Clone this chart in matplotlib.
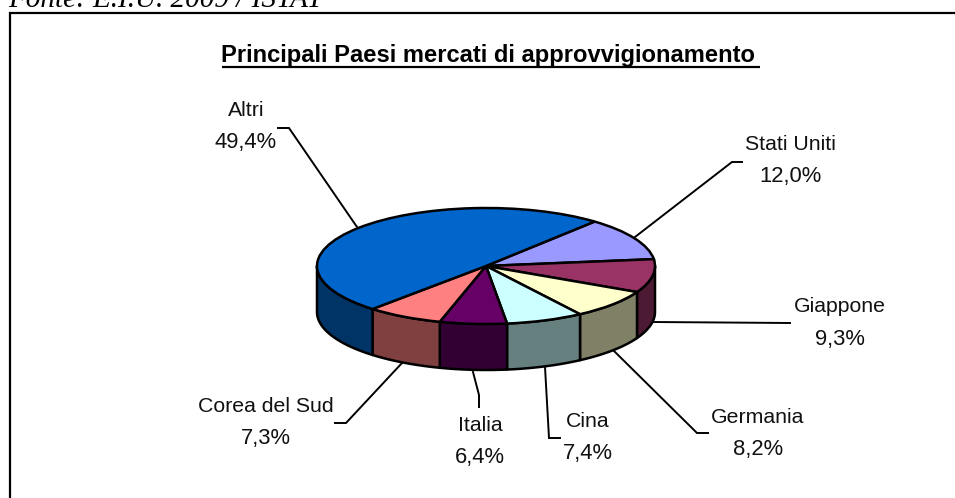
import numpy as np
import matplotlib
matplotlib.use("Agg")
import matplotlib.pyplot as plt
from matplotlib.patches import Wedge
from matplotlib.transforms import Affine2D

categories = ["Stati Uniti", "Giappone", "Germania", "Cina", "Italia", "Corea del Sud", "Altri"]
values = [12.0, 9.3, 8.2, 7.4, 6.4, 7.3, 49.4]
value_labels = ["12,0%", "9,3%", "8,2%", "7,4%", "6,4%", "7,3%", "49,4%"]
top_colors = ["#9999FF", "#993366", "#FFFFCC", "#CCFFFF", "#660066", "#FF8080", "#0066CC"]
side_colors = ["#4D4D80", "#4D1A33", "#808066", "#668080", "#330033", "#804040", "#003366"]

W, H = 955, 498
fig = plt.figure(figsize=(W / 100, H / 100), dpi=100, facecolor="white")
ax = fig.add_axes([0, 0, 1, 1])
ax.set_xlim(0, W)
ax.set_ylim(H, 0)
ax.axis("off")

plt.rcParams["font.family"] = "Liberation Sans"
LW = 1.8
cx, cy, rx, ry, depth = 486, 266, 169, 58, 46
start = 50.0

# slice angles, clockwise from start (y axis is inverted, so +angle is drawn clockwise)
fracs = np.array(values) / sum(values) * 360
edges = np.concatenate([[0], np.cumsum(fracs)]) - start  # screen angles

# side walls (only the front half, screen angles 0..180)
for i, col in enumerate(side_colors):
    a0, a1 = max(edges[i], 0), min(edges[i + 1], 180)
    if a1 <= a0:
        continue
    t = np.radians(np.linspace(a0, a1, 60))
    x = cx + rx * np.cos(t)
    y = cy + ry * np.sin(t)
    ax.fill(np.r_[x, x[::-1]], np.r_[y, y[::-1] + depth], fc=col, ec="black", lw=LW,
            joinstyle="round", zorder=2)

# top face
tr = Affine2D().scale(rx, ry).translate(cx, cy) + ax.transData
for i, col in enumerate(top_colors):
    ax.add_patch(Wedge((0, 0), 1, edges[i], edges[i + 1], fc=col, ec="black", lw=LW,
                       transform=tr, zorder=3))

# leader lines
leaders = {
    "Altri": [(357, 227), (289, 128), (278, 128)],
    "Stati Uniti": [(635, 237), (732, 162), (742, 162)],
    "Giappone": [(653, 322), (790, 323)],
    "Germania": [(613, 350), (697, 433), (708, 433)],
    "Cina": [(545, 367), (549, 438), (560, 438)],
    "Italia": [(473, 372), (479, 395), (479, 407)],
    "Corea del Sud": [(402, 363), (346, 423), (335, 423)],
}
for pts in leaders.values():
    xs, ys = zip(*pts)
    ax.plot(xs, ys, color="black", lw=1.4, zorder=1, solid_joinstyle="miter")

# labels: centre x, name y, value y
label_pos = {
    "Altri": (246, 110, 142),
    "Stati Uniti": (790, 144, 176),
    "Giappone": (840, 306, 339),
    "Germania": (758, 417, 449),
    "Cina": (588, 421, 453),
    "Italia": (480, 425, 457),
    "Corea del Sud": (266, 406, 438),
}
for name, val in zip(categories, value_labels):
    px, y1, y2 = label_pos[name]
    ax.text(px, y1, name, ha="center", va="center", fontsize=15.3, color="#111111", family="Liberation Sans")
    ax.text(px, y2, val, ha="center", va="center", fontsize=15.8, color="#111111", family="Liberation Sans")

# title and underline
ax.text(488, 55, "Principali Paesi mercati di approvvigionamento", ha="center", va="center",
        fontsize=17.1, fontweight="bold", color="black", family="Liberation Sans")
ax.plot([222, 760], [67, 67], color="black", lw=1.6, solid_capstyle="butt")

# frame (open on right and bottom)
ax.plot([9.5, 9.5, W], [H, 13, 13], color="black", lw=1.6, solid_joinstyle="miter", solid_capstyle="butt")

# source line, clipped by the top edge
ax.text(8, 7, "Fonte: E.I.U. 2009 / ISTAT", ha="left", va="baseline", fontsize=21, style="italic",
        color="black", family="Liberation Serif")

fig.savefig("out.png", dpi=100, facecolor="white")
